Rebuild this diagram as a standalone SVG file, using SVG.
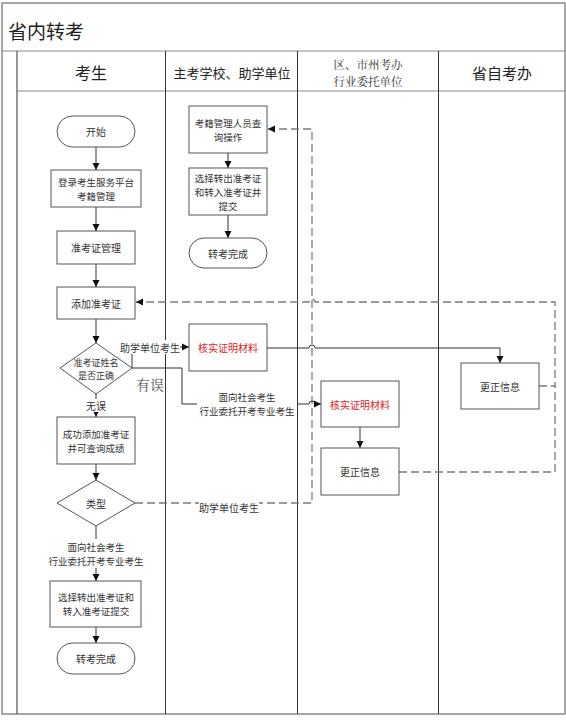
<svg xmlns="http://www.w3.org/2000/svg" width="566" height="721" viewBox="0 0 566 721">
<defs>
<style>
.frame{fill:none;stroke:#8a8a8a;stroke-width:1.5}
.div{stroke:#333;stroke-width:1}
.node{fill:#fff;stroke:#555;stroke-width:1}
.t{font-family:"Noto Sans CJK SC","Noto Sans",sans-serif;font-size:10px;fill:#333;text-anchor:middle;dominant-baseline:central}
.s{font-size:9.5px}
.xs{font-size:9px}
.red{fill:#e0202a}
.h{font-family:"Noto Sans CJK SC","Noto Sans",sans-serif;fill:#222;text-anchor:middle;dominant-baseline:central}
.ser{font-family:"Noto Serif CJK SC","Liberation Serif","Noto Sans CJK SC",serif;text-anchor:middle;dominant-baseline:central}
.solid{fill:none;stroke:#333;stroke-width:1}
.dash{fill:none;stroke:#7a7a7a;stroke-width:1.3;stroke-dasharray:8 4}
.bg{fill:#fff}
</style>
<marker id="ah" markerWidth="8" markerHeight="8" refX="7" refY="4" orient="auto" markerUnits="userSpaceOnUse">
<path d="M0,0.5 L7,4 L0,7.5 Z" fill="#111"/>
</marker>
</defs>
<rect x="0" y="0" width="566" height="721" fill="#fff"/>

<!-- frame / swimlanes -->
<g id="frame">
<rect class="frame" x="2" y="3" width="563" height="711"/>
<line x1="2" y1="51" x2="565" y2="51" stroke="#8a8a8a" stroke-width="1.2"/>
<line x1="17" y1="91" x2="565" y2="91" stroke="#8a8a8a" stroke-width="1.2"/>
<line class="div" x1="17" y1="51" x2="17" y2="714"/>
<line class="div" x1="165.5" y1="51" x2="165.5" y2="714"/>
<line class="div" x1="297.5" y1="51" x2="297.5" y2="714"/>
<line class="div" x1="438.5" y1="51" x2="438.5" y2="714"/>
<text class="h" x="8" y="30" font-size="19" style="text-anchor:start">省内转考</text>
<text class="h" x="91" y="72" font-size="16">考生</text>
<text class="h" x="232" y="72" font-size="13">主考学校、助学单位</text>
<text class="ser" font-size="11.5" fill="#333"><tspan x="368" y="63.5">区、市州考办</tspan><tspan x="368" y="80.5">行业委托单位</tspan></text>
<text class="h" x="502" y="72" font-size="15">省自考办</text>
</g>

<!-- connectors -->
<g id="connectors">
<line class="solid" x1="96" y1="147" x2="96" y2="170" marker-end="url(#ah)"/>
<line class="solid" x1="96" y1="207" x2="96" y2="231" marker-end="url(#ah)"/>
<line class="solid" x1="96" y1="264" x2="96" y2="287" marker-end="url(#ah)"/>
<line class="solid" x1="96" y1="319" x2="96" y2="343" marker-end="url(#ah)"/>
<line class="solid" x1="96" y1="394" x2="96" y2="417" marker-end="url(#ah)"/>
<line class="solid" x1="96" y1="464" x2="96" y2="480" marker-end="url(#ah)"/>
<line class="solid" x1="96" y1="526" x2="96" y2="581" marker-end="url(#ah)"/>
<line class="solid" x1="96" y1="627" x2="96" y2="643" marker-end="url(#ah)"/>
<line class="solid" x1="228" y1="153" x2="228" y2="168" marker-end="url(#ah)"/>
<line class="solid" x1="228" y1="215" x2="228" y2="238" marker-end="url(#ah)"/>
<line class="solid" x1="360" y1="427" x2="360" y2="448" marker-end="url(#ah)"/>

<path class="dash" d="M135 503 H312 V129 H268" marker-end="url(#ah)"/>
<path class="dash" d="M539 386 H555 V302 H315 A3 3 0 0 0 309 302 H136" marker-end="url(#ah)"/>
<path class="dash" d="M399 472 H555 V386"/>

<path class="solid" d="M132 368 V347 H189" marker-end="url(#ah)"/>
<path class="solid" d="M132 368 H182 V404 H309 A3 3 0 0 1 315 404 H321" marker-end="url(#ah)"/>
<path class="solid" d="M267 348 H309 A3 3 0 0 1 315 348 H500 V363" marker-end="url(#ah)"/>

<rect class="bg" x="120" y="340" width="60" height="14"/>
<text class="t" x="150" y="347">助学单位考生</text>
<text class="ser" x="150" y="384" font-size="14" fill="#555">有误</text>
<rect class="bg" x="197" y="389" width="100" height="29"/>
<text class="t s"><tspan x="247" y="396.5">面向社会考生</tspan><tspan x="247" y="410.5">行业委托开考专业考生</tspan></text>
<rect class="bg" x="86" y="399" width="20" height="13"/>
<text class="t" x="96" y="405">无误</text>
<rect class="bg" x="46" y="539" width="100" height="29"/>
<text class="t s"><tspan x="96" y="546.5">面向社会考生</tspan><tspan x="96" y="560.5">行业委托开考专业考生</tspan></text>
<rect class="bg" x="199" y="500" width="60" height="13"/>
<text class="t" x="229" y="507">助学单位考生</text>
</g>

<!-- nodes: 考生 -->
<g id="n_start"><rect class="node" x="57" y="116" width="78" height="31" rx="15.5"/><text class="t" x="96" y="131.5">开始</text></g>
<g id="n_login"><rect class="node" x="51" y="170" width="90" height="37"/><text class="t s"><tspan x="96" y="181.5">登录考生服务平台</tspan><tspan x="96" y="195.5">考籍管理</tspan></text></g>
<g id="n_zkzgl"><rect class="node" x="57" y="231" width="78" height="33"/><text class="t" x="96" y="247.5">准考证管理</text></g>
<g id="n_add"><rect class="node" x="57" y="287" width="78" height="32"/><text class="t" x="96" y="303">添加准考证</text></g>
<g id="n_check"><polygon class="node" points="96,343 132,368 96,394 60,368"/><text class="t xs"><tspan x="96" y="361.5">准考证姓名</tspan><tspan x="96" y="374.5">是否正确</tspan></text></g>
<g id="n_success"><rect class="node" x="57" y="417" width="78" height="47"/><text class="t s"><tspan x="96" y="433.5">成功添加准考证</tspan><tspan x="96" y="447.5">并可查询成绩</tspan></text></g>
<g id="n_type"><polygon class="node" points="96,480 135,503 96,526 57,503"/><text class="t" x="96" y="503">类型</text></g>
<g id="n_select1"><rect class="node" x="50" y="581" width="91" height="46"/><text class="t s"><tspan x="96" y="597">选择转出准考证和</tspan><tspan x="96" y="611">转入准考证提交</tspan></text></g>
<g id="n_end1"><rect class="node" x="57" y="643" width="78" height="31" rx="15.5"/><text class="t" x="96" y="658.5">转考完成</text></g>

<!-- nodes: 主考学校 -->
<g id="n_query"><rect class="node" x="189" y="106" width="78" height="47"/><text class="t s"><tspan x="228" y="122.5">考籍管理人员查</tspan><tspan x="228" y="136.5">询操作</tspan></text></g>
<g id="n_select2"><rect class="node" x="189" y="168" width="78" height="47"/><text class="t s"><tspan x="228" y="177.5">选择转出准考证</tspan><tspan x="228" y="191.5">和转入准考证并</tspan><tspan x="228" y="205.5">提交</tspan></text></g>
<g id="n_end2"><rect class="node" x="189" y="238" width="78" height="30" rx="15"/><text class="t" x="228" y="253">转考完成</text></g>
<g id="n_verify1"><rect class="node" x="189" y="324" width="78" height="47"/><text class="t red" x="228" y="347.5">核实证明材料</text></g>

<!-- nodes: 区、市州考办 -->
<g id="n_verify2"><rect class="node" x="321" y="381" width="78" height="46"/><text class="t red" x="360" y="404">核实证明材料</text></g>
<g id="n_fix2"><rect class="node" x="321" y="448" width="78" height="47"/><text class="t" x="360" y="471.5">更正信息</text></g>

<!-- nodes: 省自考办 -->
<g id="n_fix1"><rect class="node" x="461" y="363" width="78" height="46"/><text class="t" x="500" y="386">更正信息</text></g>
</svg>
